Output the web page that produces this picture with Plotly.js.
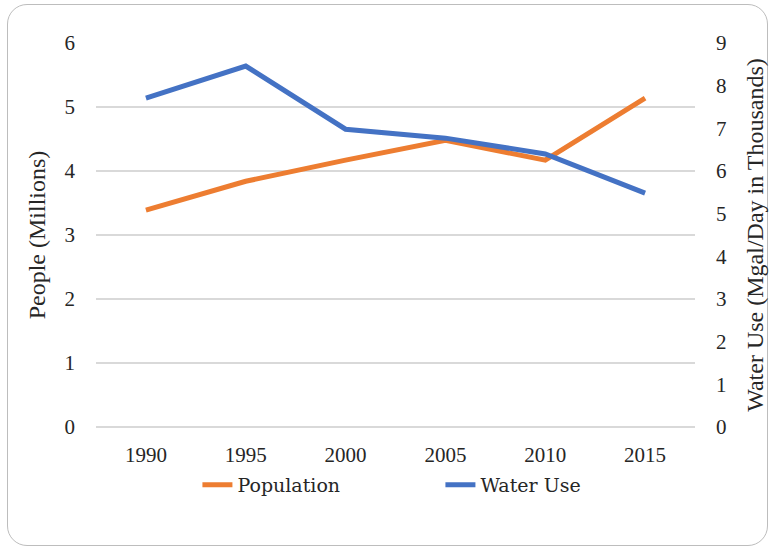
<!DOCTYPE html>
<html>
<head>
<meta charset="utf-8">
<script src="https://cdn.plot.ly/plotly-3.0.1.min.js"></script>
<style>
  html, body { margin: 0; padding: 0; background: #ffffff; }
  #frame { position: absolute; left: 7px; top: 4px; width: 761px; height: 542px;
           border: 1.5px solid #bdbdbd; border-radius: 20px; box-sizing: border-box; }
  #chart { position: absolute; left: 0; top: 0; width: 775px; height: 551px; }
</style>
</head>
<body>
<div id="frame"></div>
<div id="chart"></div>
<script>
const years = ['1990', '1995', '2000', '2005', '2010', '2015'];
const population = [3.39, 3.84, 4.17, 4.48, 4.17, 5.14];
const waterUse = [7.71, 8.46, 6.98, 6.77, 6.40, 5.48];
const leftTicks = [0, 1, 2, 3, 4, 5, 6];
const rightTicks = [0, 1, 2, 3, 4, 5, 6, 7, 8, 9];

const fontFam = 'Liberation Serif';

const traces = [
  { x: years, y: population, name: 'Population', type: 'scatter', mode: 'lines',
    line: { color: '#ED7D31', width: 5 }, yaxis: 'y' },
  { x: years, y: waterUse, name: 'Water Use', type: 'scatter', mode: 'lines',
    line: { color: '#4472C4', width: 5 }, yaxis: 'y2' }
];

const layout = {
  width: 775, height: 551,
  paper_bgcolor: 'rgba(0,0,0,0)', plot_bgcolor: 'rgba(0,0,0,0)',
  margin: { l: 96, r: 80, t: 43, b: 124 },
  font: { family: fontFam, color: '#262626', size: 21 },
  showlegend: true,
  legend: { orientation: 'h', x: 0.575, xanchor: 'center', y: -0.151, yanchor: 'middle',
            entrywidth: 198, entrywidthmode: 'pixels',
            font: { family: 'DejaVu Serif', size: 19, color: '#262626' } },
  xaxis: { type: 'category', range: [-0.5, 5.5], showgrid: false, zeroline: false,
           showline: false, ticks: '', tickfont: { family: fontFam, size: 21 }, ticklabelstandoff: 13 },
  yaxis: { range: [0, 6], tickvals: leftTicks, showgrid: true, gridcolor: '#d9d9d9', gridwidth: 1.5,
           zeroline: true, zerolinecolor: '#d9d9d9', zerolinewidth: 1.5,
           showline: false, ticks: '', tickfont: { family: fontFam, size: 21 }, ticklabelstandoff: 20,
           title: { text: 'People (Millions)', font: { family: fontFam, size: 24 }, standoff: 12 } },
  yaxis2: { range: [0, 9], tickvals: rightTicks, overlaying: 'y', side: 'right', showgrid: false,
            zeroline: false, showline: false, ticks: '', tickfont: { family: fontFam, size: 21 }, ticklabelstandoff: 20,
            title: { text: 'Water Use (Mgal/Day in Thousands)', font: { family: fontFam, size: 24 }, standoff: 20 } }
};

Plotly.newPlot('chart', traces, layout, { displayModeBar: false, staticPlot: true });
</script>
</body>
</html>
